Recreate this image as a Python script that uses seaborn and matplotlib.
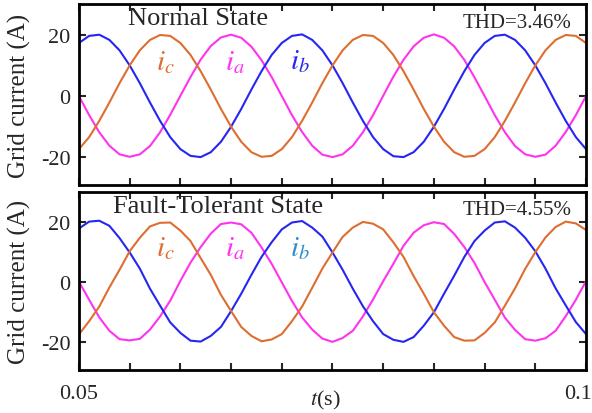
import numpy as np
import pandas as pd
import matplotlib.pyplot as plt
import matplotlib.transforms as mtransforms
import seaborn as sns

# sample times (s), 1 ms spacing
time_s = np.round(np.arange(0.050, 0.1005, 0.001), 3)

# Normal state currents (A)
ia_normal = [0, -6.2, -11.8, -16.2, -19.0, -19.8, -19.0, -16.3, -11.8, -6.1,
             0.1, 6.2, 11.9, 16.3, 19.1, 20.0, 19.0, 16.1, 11.7, 6.2,
             0, -6.2, -11.7, -16.2, -19.1, -19.9, -19.0, -16.2, -11.8, -6.2,
             0.1, 6.3, 11.8, 16.2, 19.0, 20.1, 19.0, 16.2, 11.8, 6.1,
             0, -6.2, -11.8, -16.3, -19.0, -19.8, -19.1, -16.2, -11.7, -6.2, 0]
ib_normal = [17.3, 19.6, 20.0, 18.3, 14.9, 10.0, 4.2, -2.1, -8.1, -13.4,
             -17.3, -19.5, -19.9, -18.3, -14.9, -10.0, -4.2, 2.1, 8.1, 13.4,
             17.3, 19.6, 20.1, 18.3, 14.9, 10.0, 4.2, -2.1, -8.1, -13.4,
             -17.3, -19.6, -19.9, -18.3, -14.9, -10.0, -4.2, 2.1, 8.1, 13.4,
             17.3, 19.6, 20.0, 18.3, 14.9, 10.0, 4.2, -2.1, -8.1, -13.4, -17.3]
ic_normal = [-17.3, -13.4, -8.1, -2.1, 4.2, 10.0, 14.9, 18.3, 19.9, 19.6,
             17.3, 13.4, 8.1, 2.1, -4.2, -10.0, -14.9, -18.3, -19.8, -19.5,
             -17.3, -13.4, -8.1, -2.1, 4.2, 10.0, 14.9, 18.3, 19.9, 19.6,
             17.3, 13.4, 8.1, 2.1, -4.2, -10.0, -14.9, -18.3, -19.8, -19.5,
             -17.3, -13.4, -8.1, -2.1, 4.2, 10.0, 14.9, 18.3, 19.9, 19.6, 17.3]

# Fault-tolerant state currents (A)
ia_fault = [0, -6.0, -11.9, -16.4, -19.2, -19.6, -19.1, -16.0, -11.6, -6.3,
            0.3, 6.4, 11.6, 16.1, 19.3, 19.8, 19.2, 16.4, 11.5, 6.0,
            -0.2, -6.4, -11.9, -16.0, -19.0, -20.1, -18.8, -16.4, -11.6, -5.9,
            0.2, 6.0, 12.0, 16.4, 18.9, 19.9, 19.3, 16.0, 11.6, 6.3,
            -0.1, -6.0, -12.0, -16.1, -19.2, -19.7, -18.9, -16.4, -11.5, -6.0, 0.2]
ib_fault = [17.8, 20.1, 20.4, 18.7, 14.6, 9.8, 4.4, -2.3, -8.0, -13.6,
            -17.1, -19.7, -20.0, -18.1, -15.1, -9.8, -4.0, 2.3, 8.3, 13.2,
            17.5, 19.8, 20.3, 18.1, 15.1, 9.8, 4.0, -2.3, -8.2, -13.2,
            -17.5, -19.4, -20.1, -18.5, -14.7, -10.2, -4.0, 2.0, 8.3, 13.6,
            17.1, 19.8, 20.2, 18.1, 14.7, 10.2, 4.4, -2.2, -7.9, -13.5, -17.5]
ic_fault = [-17.6, -13.2, -8.3, -1.9, 4.0, 10.2, 14.7, 18.5, 19.7, 19.8,
            17.1, 13.6, 7.9, 2.3, -4.4, -9.8, -15.1, -18.1, -19.9, -19.3,
            -17.5, -13.2, -8.3, -2.0, 4.4, 9.8, 15.0, 18.1, 20.0, 19.4,
            17.5, 13.2, 8.3, 1.9, -4.0, -10.2, -14.7, -18.5, -19.7, -19.6,
            -17.1, -13.6, -8.0, -2.2, 4.3, 9.9, 14.8, 18.3, 20.1, 19.5, 17.3]

phases = ["ia", "ib", "ic"]
colors = {"ia": "#ff33ee", "ib": "#2626f2", "ic": "#dd6e30"}
titles = ["Normal State", "Fault-Tolerant State"]
thd = ["THD=3.46%", "THD=4.55%"]
ib_label_colors = ["#2626f2", "#2e90c2"]

sns.set_style("ticks")
plt.rcParams["font.family"] = ["Liberation Serif", "DejaVu Serif"]
plt.rcParams["mathtext.fontset"] = "stix"


def make_df(ia, ib, ic):
    return pd.DataFrame({
        "t": np.concatenate([time_s, time_s, time_s]),
        "phase": ["ia"] * len(ia) + ["ib"] * len(ib) + ["ic"] * len(ic),
        "current": ia + ib + ic,
    })


data = [make_df(ia_normal, ib_normal, ic_normal),
        make_df(ia_fault, ib_fault, ic_fault)]

fig = plt.figure(figsize=(5.92, 4.14), dpi=100)
ax1 = fig.add_axes([0.1334, 0.5507, 0.8565, 0.4372])
ax2 = fig.add_axes([0.1334, 0.1039, 0.8565, 0.4299])
axes = [ax1, ax2]
ylims = [(-29, 30), (-29.5, 30)]

xticks = np.round(np.arange(0.05, 0.1001, 0.005), 3)
xlabels = ["0.05"] + [""] * (len(xticks) - 2) + ["0.1"]

for i, ax in enumerate(axes):
    sns.lineplot(data=data[i], x="t", y="current", hue="phase",
                 hue_order=phases, palette=colors, estimator=None,
                 linewidth=1.5, legend=False, ax=ax)

    ax.set_xlim(0.05, 0.1)
    ax.set_ylim(*ylims[i])
    ax.set_xticks(xticks)
    ax.set_yticks([-20, 0, 20])
    ax.set_yticklabels(["-20", "0", "20"])
    ax.tick_params(direction="in", top=True, right=True, length=5,
                   width=1.5, labelsize=16)
    ax.tick_params(axis="y", pad=6)
    ax.tick_params(axis="x", pad=10)
    for s in ax.spines.values():
        s.set_linewidth(2)
        s.set_color("black")

    ax.set_ylabel("Grid current (A)", fontsize=18, labelpad=7)
    ax.set_xlabel("")

    ax.text(0.097 if i == 0 else 0.067, 0.923, titles[i], transform=ax.transAxes,
            fontsize=19, ha="left", va="center")
    ax.text(0.972, 0.90, thd[i], transform=ax.transAxes,
            fontsize=15, ha="right", va="center")

    ax.text(0.0585, 11.3, "$i_c$", color=colors["ic"], fontsize=21,
            ha="center", va="center")
    ax.text(0.0654, 11.3, "$i_a$", color=colors["ia"], fontsize=21,
            ha="center", va="center")
    ax.text(0.0718, 11.5, "$i_b$", color=ib_label_colors[i], fontsize=21,
            ha="center", va="center")

ax1.set_xticklabels([""] * len(xticks))
ax2.set_xticklabels(xlabels)

# last label sits against the right edge as in the source figure
last = ax2.get_xticklabels()[-1]
last.set_horizontalalignment("right")
last.set_transform(last.get_transform() +
                   mtransforms.ScaledTranslation(6 / 100, 0, fig.dpi_scale_trans))

fig.text(325 / 592, 1 - 400 / 414, "$t$(s)", fontsize=16,
         ha="center", va="center")

fig.savefig("out.png", dpi=100)
